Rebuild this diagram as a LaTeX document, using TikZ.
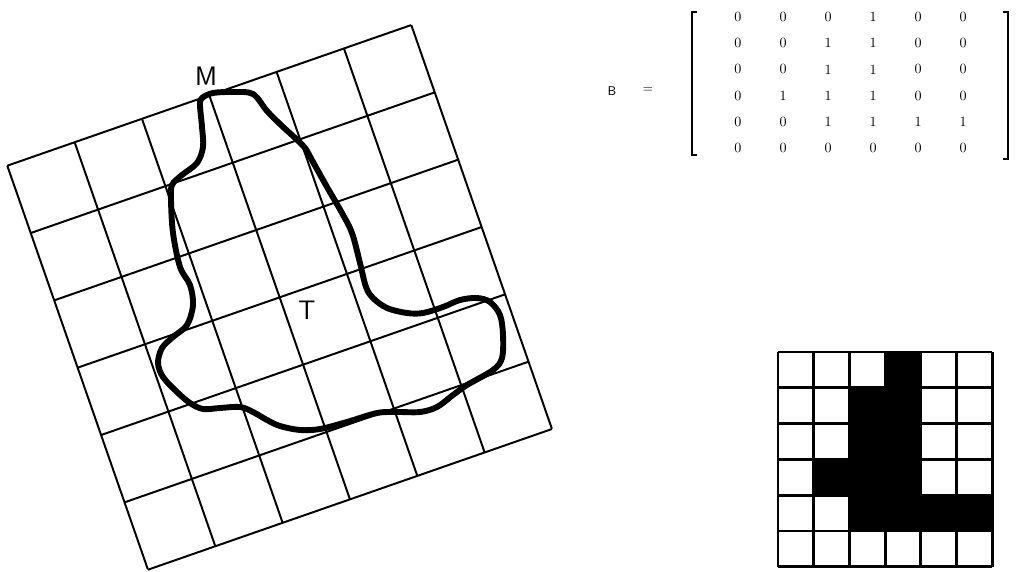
\documentclass[tikz,border=0pt]{standalone}
\usepackage{tikz}

\tikzset{
  gridline/.style={line width=1.4pt},
  blobline/.style={line width=4.2pt, line join=round},
  letter/.style={font=\fontsize{19}{21}\sffamily\selectfont, inner sep=0pt},
  entry/.style={font=\fontsize{10}{11}\selectfont, inner sep=0pt},
  cellline/.style={line width=2pt},
}

\begin{document}
\begin{tikzpicture}[x=0.025cm, y=-0.025cm]
    \useasboundingbox (0,0) rectangle (1016,571);
    % Tilted 6x6 grid over the shape
    \begin{scope}[shift={(7.3,165.7)}, rotate=19.2]
        \foreach \i in {0,...,6} {
            \draw[gridline] (71.3*\i,0) -- (71.3*\i,427.5);
            \draw[gridline] (0,71.3*\i) -- (427.5,71.3*\i);
        }
    \end{scope}
    % Outline of the shape
    \draw[blobline] plot[smooth cycle, tension=0.55] coordinates {
        (202,98) (213,93) (233,92) (253,94) (267,111) (282,126) (293,136)
        (305,148) (313,162) (327,187) (342,213) (352,233) (360,263) (366,287)
        (373,298) (387,308) (407,313) (423,313) (443,307) (460,300) (477,298)
        (490,302) (500,315) (503,335) (502,358) (493,370) (467,385) (453,395)
        (437,407) (420,412) (397,412) (377,413) (347,422) (320,429) (300,430)
        (280,426) (267,420) (253,412) (240,407) (220,408) (203,409) (190,403)
        (177,392) (163,377) (158,363) (162,348) (173,337) (187,325) (193,305)
        (190,285) (180,267) (173,233) (171,200) (172,185) (182,175) (197,163)
        (203,147) (202,127) (200,105)};
    % Labels
    \node[letter] (labM) at (206,76) {M};
    \node[letter] (labT) at (307,310) {T};
    % Matrix B
    \node[font=\fontsize{9}{10}\sffamily\selectfont] (nameB) at (612,91) {B};
    \node[font=\fontsize{9}{10}\selectfont] (eqB) at (648,90) {=};
    \draw[line width=0.9pt] (697,12) -- (692,12) -- (692,155) -- (697,155);
    \draw[line width=0.9pt] (1003,12) -- (1008,12) -- (1008,159) -- (1003,159);
    % Entries and the filled cells of the small grid
    \foreach \row [count=\r] in {{0,0,0,1,0,0},{0,0,1,1,0,0},{0,0,1,1,0,0},
                                 {0,1,1,1,0,0},{0,0,1,1,1,1},{0,0,0,0,0,0}} {
        \foreach \v [count=\c] in \row {
            \node[entry] (b\r\c) at ({738+45*(\c-1)},{17+26.2*(\r-1)}) {\v};
            \ifnum\v=1
                \fill ({778+35.7*(\c-1)},{352+35.8*(\r-1)}) rectangle ++(35.7,35.8);
            \fi
        }
    }
    % Small grid
    \foreach \i in {0,...,6} {
        \draw[cellline] ({778+35.7*\i},352) -- ({778+35.7*\i},566.8);
        \draw[cellline] (778,{352+35.8*\i}) -- (992.2,{352+35.8*\i});
    }
\end{tikzpicture}
\end{document}
